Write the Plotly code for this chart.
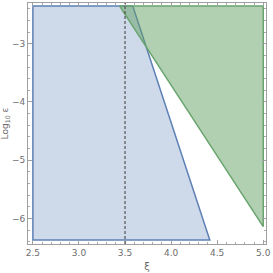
import plotly.graph_objects as go

# Region boundaries (xi, log10 epsilon)
blue_xi = [2.5, 3.584, 4.42, 2.5, 2.5]
blue_log_eps = [-2.35, -2.35, -6.37, -6.37, -2.35]
green_xi = [3.44, 5.0, 5.0, 3.44]
green_log_eps = [-2.35, -2.35, -6.14, -2.35]
xi_marker = 3.5

x_tickvals = [2.5, 3.0, 3.5, 4.0, 4.5, 5.0]
x_ticktext = ["2.5", "3.0", "3.5", "4.0", "4.5", "5.0"]
y_tickvals = [-3, -4, -5, -6]
y_ticktext = ["\u22123", "\u22124", "\u22125", "\u22126"]

fig = go.Figure()
fig.add_trace(go.Scatter(x=blue_xi, y=blue_log_eps, mode="lines", fill="toself",
                         fillcolor="rgba(94,129,181,0.3)",
                         line=dict(color="rgb(94,129,181)", width=1.5),
                         hoverinfo="skip", showlegend=False))
fig.add_trace(go.Scatter(x=green_xi, y=green_log_eps, mode="lines", fill="toself",
                         fillcolor="rgba(100,160,100,0.5)",
                         line=dict(color="rgb(105,165,110)", width=1.5),
                         hoverinfo="skip", showlegend=False))
fig.add_vline(x=xi_marker, line=dict(color="rgb(85,85,85)", width=1.2, dash="3px,2px"))

axis_common = dict(showgrid=False, zeroline=False, showline=True,
                   linecolor="rgb(160,160,160)", linewidth=1, mirror="ticks",
                   ticks="inside", ticklen=4, tickcolor="rgb(160,160,160)",
                   ticklabeloverflow="allow",
                   tickfont=dict(family="DejaVu Sans", size=9, color="rgb(110,110,110)"))

fig.update_xaxes(range=[2.447, 5.03], tickvals=x_tickvals, ticktext=x_ticktext,
                 minor=dict(dtick=0.1, ticks="inside", ticklen=2, tickcolor="rgb(170,170,170)"),
                 title=dict(text="\u03be", font=dict(family="DejaVu Sans", size=10, color="rgb(110,110,110)"),
                            standoff=6),
                 **axis_common)
fig.update_yaxes(range=[-6.44, -2.30], tickvals=y_tickvals, ticktext=y_ticktext,
                 minor=dict(dtick=0.2, ticks="inside", ticklen=2, tickcolor="rgb(170,170,170)"),
                 title=dict(text="Log<sub>10</sub> \u03b5", font=dict(family="DejaVu Sans", size=9, color="rgb(110,110,110)"),
                            standoff=4),
                 **axis_common)

fig.update_layout(width=273, height=273, margin=dict(l=27, r=4, t=2, b=28),
                  paper_bgcolor="white", plot_bgcolor="white")

fig.write_html("out.html", config={"displayModeBar": False},
               post_script="document.body.style.margin='0';document.body.style.padding='0';")
